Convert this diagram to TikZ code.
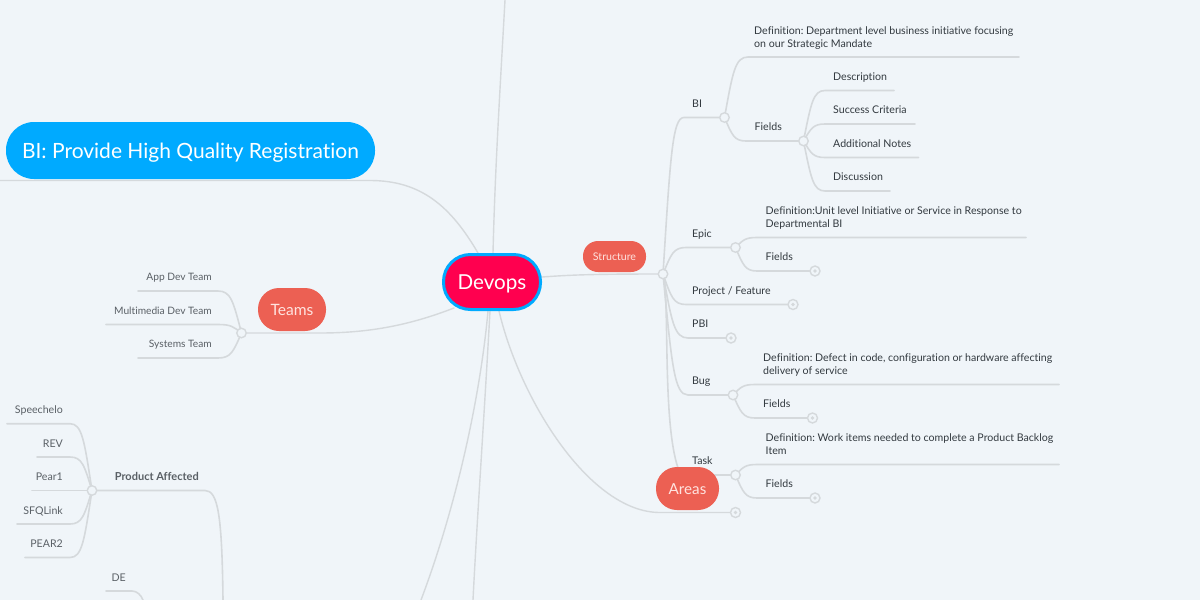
\documentclass[tikz,border=0pt]{standalone}
\usepackage{fontspec}
\setmainfont[Ligatures=NoCommon]{Lato}
\frenchspacing
\usetikzlibrary{calc,backgrounds}
\definecolor{bgc}{HTML}{F0F5F9}
\definecolor{linec}{HTML}{D5D9DC}
\definecolor{devred}{HTML}{FF004F}
\definecolor{blu}{HTML}{00AAFF}
\definecolor{coral}{HTML}{EC6053}
\definecolor{dk}{HTML}{333A40}
\definecolor{gy}{HTML}{5A6066}
\definecolor{pale}{HTML}{FFE3DF}
\newcommand\st{\rule{0pt}{10.5pt}\rule[-2.5pt]{0pt}{2.5pt}}
\tikzset{
  conn/.style={draw=linec,line width=1.6pt,line cap=round},
  thin conn/.style={draw=linec,line width=1.4pt,line cap=round},
  junc/.style={circle,draw=linec,line width=1.4pt,fill=bgc,minimum size=9.5pt,inner sep=0pt},
  expc/.style={circle,draw=linec,line width=1.4pt,fill=bgc,minimum size=10pt,inner sep=0pt,
    path picture={\fill[linec] (path picture bounding box.center) circle (1.8pt);}},
  rlbl/.style={anchor=west,inner sep=0pt,align=left,text=dk,font=\fontsize{10.6}{13}\selectfont},
  llbl/.style={anchor=east,inner sep=0pt,align=right,text=gy,font=\fontsize{10.6}{13}\selectfont},
  tlbl/.style={llbl,font=\fontsize{10.2}{13}\selectfont},
  pill/.style={rectangle,inner sep=0pt,fill=coral,text=pale,rounded corners=#1},
}
\newcommand\leaf[5]{% name, junction, elbow x, line y, end x
  \coordinate (#1-e) at (#3,#4);
  \coordinate (#1-f) at (#5,#4);
  \draw[conn] let \p1=(#2.center), \p2=(#1-e) in (\p1)
    .. controls ({\x1+0.35*(\x2-\x1)},{\y1+0.75*(\y2-\y1)}) and ({\x1+0.45*(\x2-\x1)},\y2) .. (\p2) -- (#1-f);}
\newcommand\stub[4]{% name, junction, elbow x, target node (line runs at the target's height)
  \draw[conn] let \p1=(#2.center), \p3=(#4.center), \p2=(#3,\y3) in (\p1)
    .. controls ({\x1+0.35*(\x2-\x1)},{\y1+0.75*(\y2-\y1)}) and ({\x1+0.45*(\x2-\x1)},\y2) .. (\p2) -- (#4.center);}
\begin{document}
\begin{tikzpicture}[x=1pt,y=-1pt]
\pgfdeclarelayer{under}\pgfsetlayers{under,main}
\useasboundingbox (0,0) rectangle (1200,600);
% central and main nodes
\node[rectangle,draw=blu,line width=3pt,fill=devred,text=white,rounded corners=27pt,inner sep=0pt,
  minimum width=97pt,minimum height=55pt,text height=15pt,text depth=0.4pt,font=\fontsize{20.6}{24}\selectfont] (devops) at (492,282) {Devops};
\node[rectangle,fill=blu,text=white,rounded corners=28pt,inner sep=0pt,minimum width=369pt,minimum height=57pt,
  text height=17pt,text depth=1pt,font=\fontsize{21}{25}\selectfont] (bi) at (190.5,150.5) {BI: Provide High Quality Registration};
\node[pill=21pt,minimum width=68pt,minimum height=43pt,text height=11.5pt,text depth=0pt,font=\fontsize{15.6}{18}\selectfont] (teams) at (292,309.5) {Teams};
\node[pill=15pt,minimum width=63pt,minimum height=31pt,font=\fontsize{10.6}{13}\selectfont] (structure) at (614.5,256.5) {Structure};
\node[pill=21pt,minimum width=63pt,minimum height=43pt,text height=11.5pt,text depth=0pt,font=\fontsize{15.2}{18}\selectfont] (areas) at (687.5,488.5) {Areas};
% junctions
\node[junc] (js) at (663,274) {};
\node[junc] (jbi) at (724.5,117.5) {};
\node[junc] (jbf) at (803.5,141) {};
\node[junc] (jep) at (735.5,247.5) {};
\node[junc] (jbu) at (733,395) {};
\node[junc] (jta) at (735.5,475) {};
\node[junc] (jte) at (241.5,333) {};
\node[junc] (jpa) at (92,490.5) {};
% collapsed markers
\node[expc] (xef) at (815,271) {};
\node[expc] (xpf) at (793,304.5) {};
\node[expc] (xpb) at (731,338) {};
\node[expc] (xbf) at (812.5,418) {};
\node[expc] (xtf) at (815,498) {};
\node[expc] (xar) at (735.5,512.5) {};
% right labels
\node[rlbl] (lbi) at (692,103) {\st BI};
\node[rlbl] (lbid) at (754,36.5) {\st Definition: Department level business initiative focusing\\\st on our Strategic Mandate};
\node[rlbl] (lbif) at (754.5,126.5) {\st Fields};
\node[rlbl] (ld1) at (833,76) {\st Description};
\node[rlbl] (ld2) at (833,109.5) {\st Success Criteria};
\node[rlbl] (ld3) at (833,143) {\st Additional Notes};
\node[rlbl] (ld4) at (833,176.5) {\st Discussion};
\node[rlbl] (lep) at (692,233) {\st Epic};
\node[rlbl] (lepd) at (765.5,217) {\st Definition:Unit level Initiative or Service in Response to\\\st Departmental BI};
\node[rlbl] (lepf) at (765.5,256.5) {\st Fields};
\node[rlbl] (lpf) at (692,290) {\st Project / Feature};
\node[rlbl] (lpb) at (692,323.5) {\st PBI};
\node[rlbl] (lbu) at (692,380.5) {\st Bug};
\node[rlbl] (lbud) at (763,363.5) {\st Definition: Defect in code, configuration or hardware affecting\\\st delivery of service};
\node[rlbl] (lbuf) at (763,403.5) {\st Fields};
\node[rlbl] (lta) at (692,460) {\st Task};
\node[rlbl] (ltad) at (765.5,443.5) {\st Definition: Work items needed to complete a Product Backlog\\\st Item};
\node[rlbl] (ltaf) at (765.5,483.5) {\st Fields};
% left labels
\node[tlbl] (lt1) at (212,276) {\st App Dev Team};
\node[tlbl] (lt2) at (212,310) {\st Multimedia Dev Team};
\node[tlbl] (lt3) at (212,343.5) {\st Systems Team};
\node[llbl] (lp1) at (63,409.5) {\st Speechelo};
\node[llbl] (lp2) at (63,443) {\st REV};
\node[llbl] (lp3) at (63,476.5) {\st Pear1};
\node[llbl] (lp4) at (63,510) {\st SFQLink};
\node[llbl] (lp5) at (63,543.5) {\st PEAR2};
\node[llbl,font=\fontsize{11}{13}\bfseries\selectfont] (lpa) at (199,476.5) {\st Product Affected};
\node[llbl] (lde) at (126,577) {\st DE};
% off-page ends
\coordinate (top) at (505,0);
\coordinate (bl) at (421,600);
\coordinate (bm) at (473,600);
\coordinate (bil) at (0,180.5);
\coordinate (pab) at (223,600);
\coordinate (dea) at (106,591);
\coordinate (deb) at (143,600);
\begin{pgfonlayer}{under}
\fill[bgc] (0,0) rectangle (1200,600);
% main connectors
\draw[thin conn] ($(devops.north)+(1,0)$) .. controls (495,170) and (500,90) .. (top);
\draw[thin conn] ($(devops.north)+(-14,0)$) .. controls (450,205) and (420,180.5) .. (370,180.5) -- (bil);
\draw[thin conn] ($(devops.south west)+(12,-3)$) .. controls (410,325) and (370,333) .. (320,333) -- (jte.center);
\draw[thin conn] ($(devops.south)+(-4,0)$) .. controls (480,400) and (455,510) .. (bl);
\draw[thin conn] ($(devops.south)+(-2,0)$) .. controls (484,420) and (477,520) .. (bm);
\draw[thin conn] ($(devops.south)+(7,0)$) .. controls (520,400) and (590,512.5) .. (660,512.5) -- (xar.center);
\draw[thin conn] ($(devops.east)+(0,-5)$) .. controls (570,275) and (590,274) .. (js.center);
% structure branch
\stub{lnbi}{js}{684}{jbi}
\stub{lnep}{js}{686}{jep}
\stub{lnpf}{js}{686}{xpf}
\stub{lnpb}{js}{688}{xpb}
\stub{lnbu}{js}{688}{jbu}
\coordinate (tac) at (690,475);
\draw[conn] (js.center) .. controls (670,300) and (662,420) .. (678,468) -- (tac) -- (jta.center);
% bi
\leaf{d1}{jbi}{748}{57}{1019}
\stub{lnbf}{jbi}{746}{jbf}
\leaf{f1}{jbf}{825}{90.5}{894}
\leaf{f2}{jbf}{825}{124}{915}
\leaf{f3}{jbf}{825}{157.5}{918.5}
\leaf{f4}{jbf}{825}{191}{890}
% epic
\leaf{d2}{jep}{757}{237.5}{1026}
\stub{lnef}{jep}{757}{xef}
% bug
\leaf{d3}{jbu}{755}{384.5}{1059}
\stub{lnuf}{jbu}{755}{xbf}
% task
\leaf{d4}{jta}{757}{464.5}{1059}
\stub{lntf}{jta}{757}{xtf}
% teams
\leaf{t1}{jte}{218}{291}{138}
\leaf{t2}{jte}{218}{324.5}{106}
\leaf{t3}{jte}{218}{358}{138}
% product affected
\leaf{p1}{jpa}{70}{423.7}{7}
\leaf{p2}{jpa}{70}{457}{37}
\leaf{p3}{jpa}{70}{490.5}{32}
\leaf{p4}{jpa}{70}{524}{17}
\leaf{p5}{jpa}{70}{557.5}{25}
\draw[conn] (jpa.center) -- (205,490.5) .. controls (218,490.5) and (222,515) .. (pab);
\draw[conn] (dea) -- (132,591) .. controls (137,591) and (141,595) .. (deb);
\end{pgfonlayer}
\end{tikzpicture}
\end{document}
